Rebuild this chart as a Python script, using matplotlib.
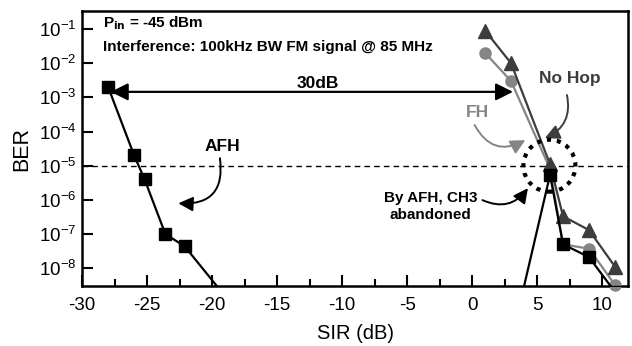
import matplotlib
matplotlib.use('Agg')
import matplotlib.pyplot as plt
from matplotlib.ticker import MultipleLocator, NullLocator
from matplotlib.patches import Circle
from matplotlib.transforms import ScaledTranslation

plt.rcParams['font.family'] = ['Liberation Sans', 'DejaVu Sans']
plt.rcParams['axes.unicode_minus'] = False

# AFH, low-SIR branch (last point lies below the plotted range)
afh_sir = [-28, -26, -25.2, -23.6, -22.1, -19]
afh_ber = [2e-3, 2e-5, 4e-6, 1e-7, 4.3e-8, 1.5e-9]

# AFH with CH3 abandoned, high-SIR branch
ch3_sir = [3.8, 6, 7, 9, 11]
ch3_ber = [1.4e-9, 5.4e-6, 5e-8, 2.1e-8, 2e-9]

# No hop
nohop_sir = [1, 3, 6, 7, 9, 11]
nohop_ber = [9e-2, 1e-2, 1.1e-5, 3.3e-7, 1.3e-7, 1.1e-8]

# FH
fh_sir = [1, 3, 6, 7, 9, 11]
fh_ber = [2e-2, 3e-3, 8e-6, 5e-8, 3.7e-8, 3.2e-9]

ber_ticks = [1e-8, 1e-7, 1e-6, 1e-5, 1e-4, 1e-3, 1e-2, 1e-1]
ber_labels = ['$10^{-8}$', '$10^{-7}$', '$10^{-6}$', '$10^{-5}$',
              '$10^{-4}$', '$10^{-3}$', '$10^{-2}$', '$10^{-1}$']
ber_limit = 1e-5

dark = '#3d3d3d'
grey = '#858585'

plt.rcParams['mathtext.default'] = 'regular'

fig = plt.figure(figsize=(6.32, 3.46), dpi=100)
ax = fig.add_axes([0.13, 0.173, 0.8637, 0.795])

ax.plot(fh_sir, fh_ber, color=grey, lw=1.6, marker='o', ms=8, zorder=3, clip_on=False)
ax.plot(nohop_sir, nohop_ber, color=dark, lw=1.6, marker='^', ms=10, zorder=4, clip_on=False)
ax.plot(afh_sir, afh_ber, color='black', lw=1.6, marker='s', ms=8, zorder=5)
ax.plot(ch3_sir, ch3_ber, color='black', lw=1.6, marker='s', ms=8, zorder=5)

ax.axhline(ber_limit, color='black', lw=1, ls=(0, (4, 3)), zorder=2)

ax.set_yscale('log')
ax.set_xlim(-30, 12)
ax.set_ylim(2.97e-9, 0.336)
ax.xaxis.set_major_locator(MultipleLocator(5))
ax.xaxis.set_minor_locator(MultipleLocator(2.5))
ax.set_yticks(ber_ticks, ber_labels)
ax.yaxis.set_minor_locator(NullLocator())
ax.tick_params(which='both', direction='in', labelsize=13.5, width=1.5, top=False, right=False)
ax.tick_params(which='major', length=8)
ax.tick_params(which='minor', length=5)
ax.tick_params(axis='x', pad=8)
ax.tick_params(axis='y', pad=4)
for s in ax.spines.values():
    s.set_linewidth(1.8)

ax.set_xlabel('SIR (dB)', fontsize=14.5, labelpad=7)
ax.set_ylabel('BER', fontsize=15.5, labelpad=5)

bold = dict(fontweight='bold')
ax.text(0.038, 0.956, r'P$_{\mathbf{in}}$ = -45 dBm', transform=ax.transAxes,
        fontsize=11, va='center', **bold)
ax.text(0.038, 0.869, 'Interference: 100kHz BW FM signal @ 85 MHz', transform=ax.transAxes,
        fontsize=11, va='center', **bold)

# 30 dB gap
ax.annotate('', xy=(-27.8, 1.45e-3), xytext=(3.15, 1.45e-3),
            arrowprops=dict(arrowstyle='<|-|>', color='black', lw=1.6, mutation_scale=26,
                            shrinkA=0, shrinkB=0))
ax.text(-11.9, 2.6e-3, '30dB', fontsize=12.5, ha='center', va='center', **bold)

ax.text(-19.2, 3.7e-5, 'AFH', fontsize=12.5, ha='center', va='center', **bold)
ax.annotate('', xy=(-22.6, 7.9e-7), xytext=(-19.4, 1.66e-5),
            arrowprops=dict(arrowstyle='-|>', color='black', lw=1.4, mutation_scale=22,
                            shrinkA=0, shrinkB=0, connectionstyle='arc3,rad=-0.6'))

ax.text(0.4, 3.7e-4, 'FH', fontsize=12.5, color=grey, ha='center', va='center', **bold)
ax.annotate('', xy=(4.1, 5.6e-5), xytext=(0.2, 1.55e-4),
            arrowprops=dict(arrowstyle='-|>', color=grey, lw=1.4, mutation_scale=22,
                            shrinkA=0, shrinkB=0, connectionstyle='arc3,rad=0.5'))

ax.text(7.5, 3.6e-3, 'No Hop', fontsize=12.5, color=dark, ha='center', va='center', **bold)
ax.annotate('', xy=(5.6, 6.4e-5), xytext=(7.3, 1.17e-3),
            arrowprops=dict(arrowstyle='-|>', color=dark, lw=1.4, mutation_scale=22,
                            shrinkA=0, shrinkB=0, connectionstyle='arc3,rad=-0.4'))

ax.text(-3.2, 6.3e-7, 'By AFH, CH3\nabandoned', fontsize=11, ha='center', va='center',
        multialignment='center', linespacing=1.3, **bold)
ax.annotate('', xy=(4.3, 2.2e-6), xytext=(0.8, 9.8e-7),
            arrowprops=dict(arrowstyle='-|>', color='black', lw=1.4, mutation_scale=22,
                            shrinkA=0, shrinkB=0, connectionstyle='arc3,rad=0.4'))

# dotted ring around the CH3 point
ring_tr = fig.dpi_scale_trans + ScaledTranslation(5.95, 1e-5, ax.transData)
ax.add_patch(Circle((0, 0), 0.26, transform=ring_tr, fill=False, ec='black', lw=3,
                    ls=(0, (1, 1.4)), zorder=6, clip_on=False))

plt.savefig('out.png', dpi=100)
